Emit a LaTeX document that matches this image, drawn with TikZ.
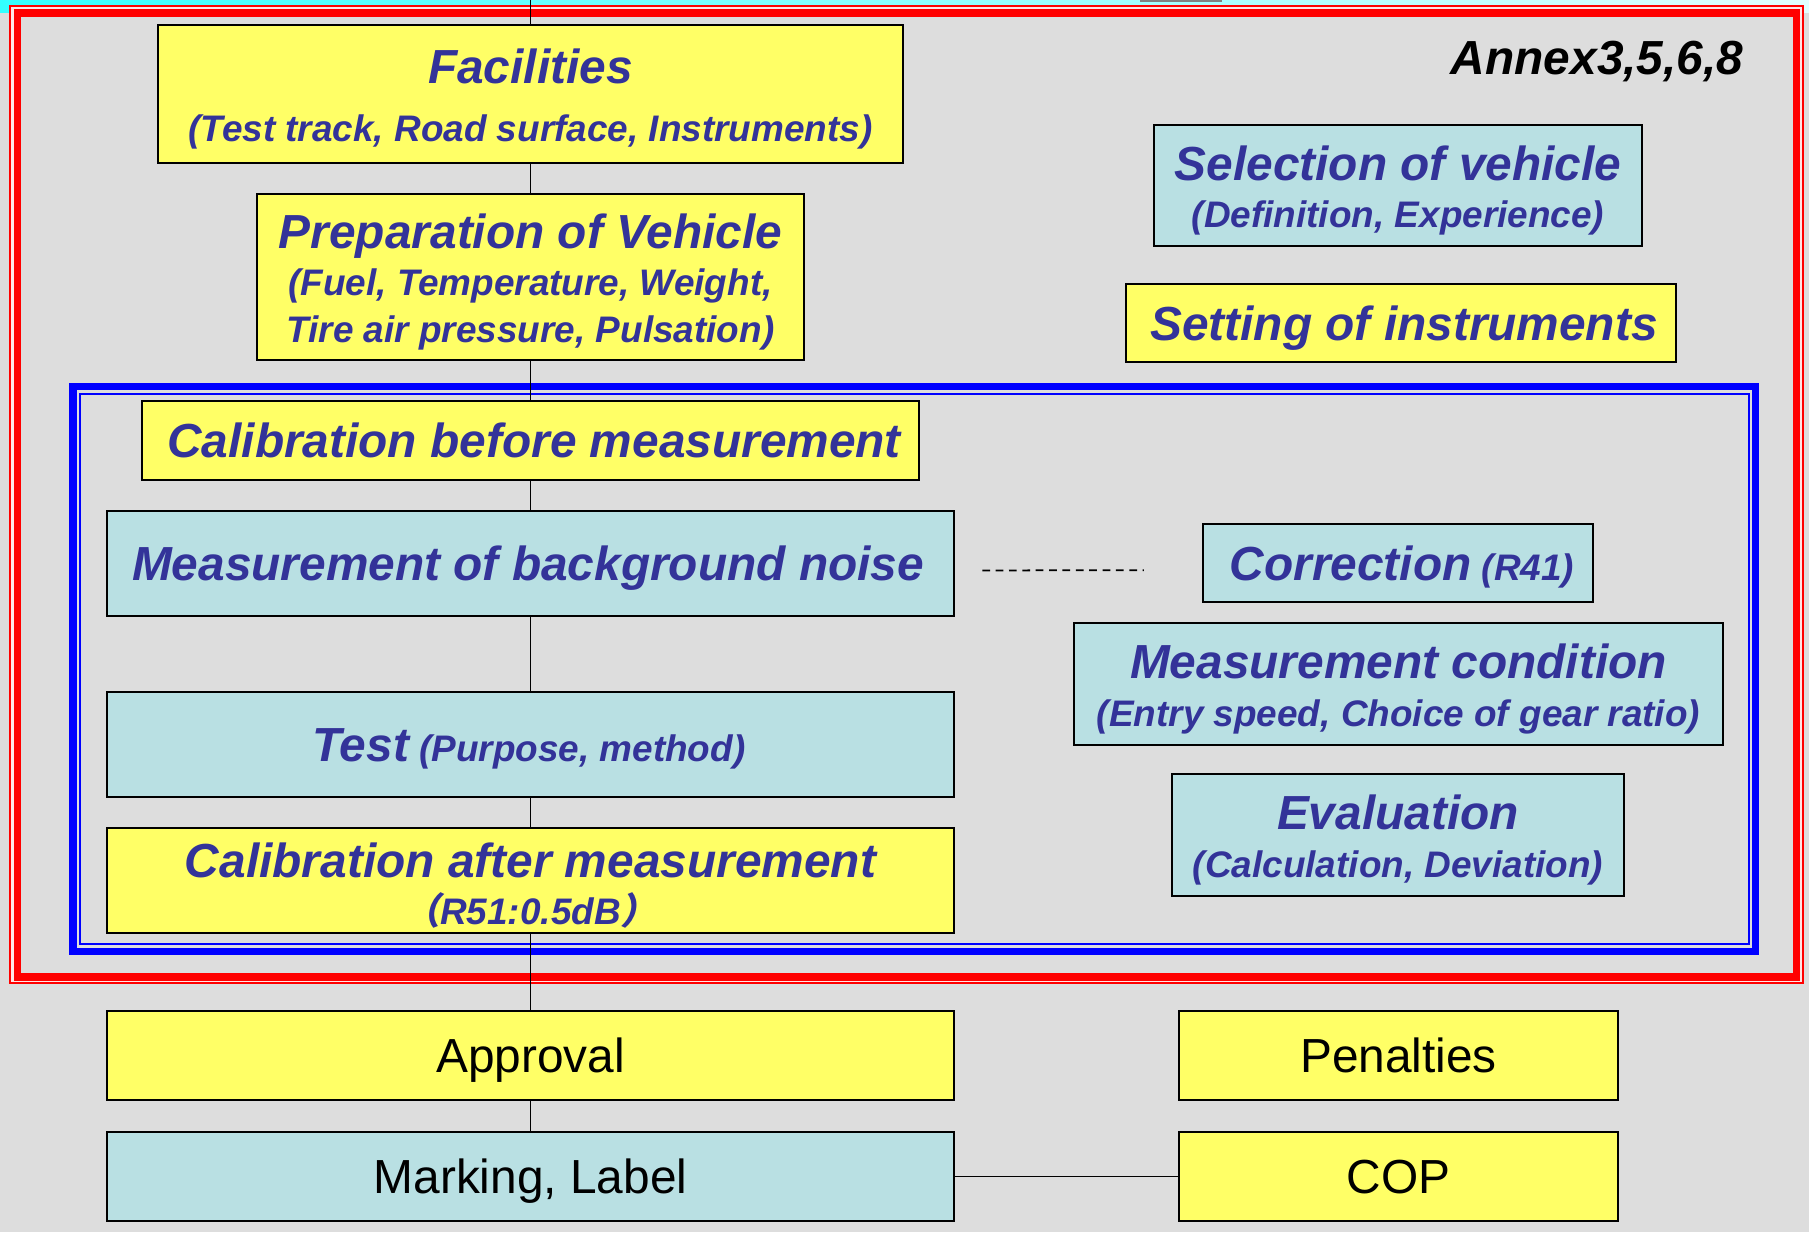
\documentclass[tikz,border=0pt]{standalone}
\usepackage{fontspec}
\setmainfont{Liberation Sans}
\newfontfamily\cjk[FakeSlant=0.2]{Noto Sans CJK JP}
\usetikzlibrary{positioning, calc}
\definecolor{amarillo}{RGB}{255,255,102}
\definecolor{celeste}{RGB}{185,224,227}
\definecolor{azultexto}{RGB}{51,51,153}
\definecolor{fondo}{RGB}{221,221,221}
\definecolor{cian}{RGB}{51,255,255}
\definecolor{cianclaro}{RGB}{225,255,255}
\newcommand{\grande}{\fontsize{13.6pt}{15pt}\selectfont}
\newcommand{\chico}{\fontsize{10.5pt}{13.4pt}\selectfont}
\newcommand{\arriba}{\rule{0pt}{12.7pt}}

\begin{document}
\begin{tikzpicture}[
        x=0.01cm, y=-0.01cm,
        caja/.style={
            rectangle,
            draw=black,
            line width=0.5pt,
            inner sep=0pt,
            outer sep=0pt,
            align=center,
            text=azultexto,
            font=\bfseries\itshape\chico
        },
        amarilla/.style={caja, fill=amarillo},
        celeste/.style={caja, fill=celeste},
        linea/.style={text height=9.9pt, text depth=0pt},
        llano/.style={linea, font=\grande, text=black},
        conector/.style={draw=black, line width=0.5pt},
        marcorojo/.style={draw=red, line width=2.1pt},
        marcoazul/.style={draw=blue, line width=2pt}
    ]
        \fill[fondo] (0,0) rectangle (1809,1232);
        \useasboundingbox (0,0) rectangle (1809,1232);
        \shade[left color=cian, right color=cianclaro] (0,0) rectangle (1809,12);
        \fill[gray] (1140,0) rectangle (1222,1.5);

        % marcos
        \draw[red, line width=0.57pt] (10,5.7) rectangle (1803,982.5);
        \draw[white!90!red, line width=0.7pt] (12.5,8) rectangle (1801,980.5);
        \draw[marcorojo] (17.5,13) rectangle (1796.5,977);
        \draw[marcoazul] (73,386.7) rectangle (1755,951.3);
        \draw[blue, line width=0.57pt] (80.3,393.6) rectangle (1748.5,944.2);

        \node[anchor=base east, inner sep=0pt, font=\bfseries\itshape\grande] (anexo) at (1744,74) {Annex3,5,6,8};

        % columna izquierda
        \node[amarilla, minimum width=7.44cm, minimum height=1.38cm] (instalaciones) at (530.5,94) {
            {\grande\arriba Facilities}\\[3.3pt]
            (Test track, Road surface, Instruments)
        };
        \node[amarilla, minimum width=5.46cm, minimum height=1.66cm] (preparacion) at (530.5,277) {
            {\grande\arriba Preparation of Vehicle}\\
            (Fuel, Temperature, Weight,\\
            Tire air pressure, Pulsation)
        };
        \node[amarilla, linea, minimum width=7.77cm, minimum height=0.79cm] (calantes) at (530.5,440.5) {
            \hspace*{5pt}{\grande Calibration before measurement}
        };
        \node[celeste, linea, minimum width=8.47cm, minimum height=1.05cm] (ruido) at (530.5,563.5) {
            \hspace*{1.5pt}{\grande Measurement of background noise}
        };
        \node[celeste, linea, minimum width=8.47cm, minimum height=1.05cm] (prueba) at (530.5,744.5) {
            \hspace*{2pt}{\grande Test} (Purpose, method)
        };
        \node[amarilla, minimum width=8.47cm, minimum height=1.05cm] (caldespues) at (530.5,880.5) {
            {\grande\arriba Calibration after measurement}\\
            {\cjk （}R51:0.5dB{\cjk ）}
        };
        \node[amarilla, llano, minimum width=8.47cm, minimum height=0.89cm] (aprobacion) at (530.5,1055.5) {Approval};
        \node[celeste, llano, minimum width=8.47cm, minimum height=0.89cm] (marcado) at (530.5,1176.5) {Marking, Label};

        % columna derecha
        \node[celeste, minimum width=4.87cm, minimum height=1.21cm] (seleccion) at (1398,185.5) {
            {\grande\arriba Selection of vehicle}\\
            (Definition, Experience)
        };
        \node[amarilla, linea, minimum width=5.50cm, minimum height=0.78cm] (ajuste) at (1401,323) {
            \hspace*{4.6pt}{\grande Setting of instruments}
        };
        \node[celeste, linea, minimum width=3.90cm, minimum height=0.78cm] (correccion) at (1398,563) {
            \hspace*{5.2pt}{\grande Correction} (R41)
        };
        \node[celeste, minimum width=6.49cm, minimum height=1.22cm] (condicion) at (1398.5,684) {
            {\grande\arriba Measurement condition}\\
            (Entry speed, Choice of gear ratio)
        };
        \node[celeste, minimum width=4.52cm, minimum height=1.22cm] (evaluacion) at (1398,835) {
            {\grande\arriba Evaluation}\\
            (Calculation, Deviation)
        };
        \node[amarilla, llano, minimum width=4.39cm, minimum height=0.89cm] (sanciones) at (1398.5,1055.5) {Penalties};
        \node[amarilla, llano, minimum width=4.39cm, minimum height=0.89cm] (cop) at (1398.5,1176.5) {COP};

        % conectores
        \coordinate (tope) at (530.5,0);
        \draw[conector] (tope) -- (instalaciones.north);
        \foreach \a/\b in {instalaciones/preparacion, preparacion/calantes, calantes/ruido,
                ruido/prueba, prueba/caldespues, caldespues/aprobacion, aprobacion/marcado}
            \draw[conector] (\a.south) -- (\b.north);
        \draw[conector] (marcado.east) -- (cop.west);
        \draw[conector, dash pattern=on 2.2pt off 1.6pt, shorten <=0.28cm, shorten >=0.59cm]
            ([yshift=-0.07cm]ruido.east) -- ([yshift=-0.07cm]correccion.west);
    \end{tikzpicture}
\end{document}
